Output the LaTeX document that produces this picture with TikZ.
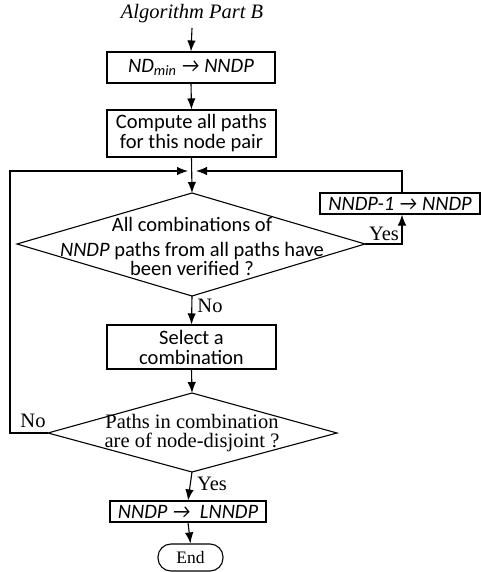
\documentclass[tikz,border=0pt]{standalone}
\usepackage{fontspec}
\setmainfont{Liberation Serif}
\newfontfamily\carlitofont{Carlito}
\usetikzlibrary{arrows.meta}
\tikzset{
  conn/.style={line width=1.1pt,-{Latex[length=11pt,width=8.5pt]}},
  plain/.style={line width=1.1pt},
  boxn/.style={draw,line width=1.1pt,inner sep=0pt,align=center,font=\carlitofont\fontsize{20.5}{20}\selectfont},
  serif/.style={font=\fontsize{20.5}{18.5}\selectfont},
}
\begin{document}
\begin{tikzpicture}[x=1pt,y=-1pt]
\useasboundingbox (0,0) rectangle (481,572);
% title
\node[serif,font=\fontsize{20.5}{18}\selectfont\itshape] (title) at (192,14) {Algorithm Part B};
\coordinate (t0) at (192,28);
% boxes
\node[boxn,minimum width=168pt,minimum height=31pt] (b1) at (191,67.5) {\itshape ND\textsubscript{min} → NNDP};
\node[boxn,minimum width=169pt,minimum height=47pt] (b2) at (191.5,133.5) {Compute all paths\\for this node pair};
\node[boxn,minimum width=160pt,minimum height=21pt] (b3) at (400,203.5) {\itshape NNDP-1 → NNDP};
\node[boxn,minimum width=169pt,minimum height=44pt] (b4) at (191.5,347) {Select a\\combination};
\node[boxn,minimum width=156pt,minimum height=21pt] (b5) at (188,511.5) {\itshape NNDP →\ \ LNNDP};
\node[draw,line width=1.1pt,rounded corners=13pt,minimum width=65pt,minimum height=27pt,inner sep=0pt,serif,font=\fontsize{17.5}{18}\selectfont] (end) at (190.5,557.5) {End};
% diamond 1
\coordinate (d1n) at (192,193);
\coordinate (d1e) at (365,244);
\coordinate (d1s) at (192,296);
\coordinate (d1w) at (17,244);
\draw[plain] (d1n) -- (d1e) -- (d1s) -- (d1w) -- cycle;
\node[align=center,font=\carlitofont\fontsize{20.5}{20}\selectfont,inner sep=0pt] (d1t) at (192,246)
  {All combinations of\\[5pt] \textit{NNDP} paths from all paths have\\[-1pt] been verified ?};
% diamond 2
\coordinate (d2n) at (192,393);
\coordinate (d2e) at (337,433);
\coordinate (d2s) at (192,472);
\coordinate (d2w) at (48,433);
\draw[plain] (d2n) -- (d2e) -- (d2s) -- (d2w) -- cycle;
\node[align=center,serif,inner sep=0pt] (d2t) at (192,433)
  {Paths in combination\\are of node-disjoint ?};
% junction
\coordinate (jl) at (188,171);
\coordinate (jr) at (196,171);
\coordinate (lc1) at (10,433);
\coordinate (lc2) at (10,171);
\coordinate (rc1) at (402,244);
\coordinate (rc2) at (402,171);
% connectors
\draw[conn] (t0) -- (b1.north);
\draw[conn] (b1.south) -- (b2.north);
\draw[conn] (b2.south) -- (d1n);
\draw[conn] (d1s) -- (b4.north);
\draw[conn] (b4.south) -- (d2n);
\draw[conn] (d2s) -- (b5.north);
\draw[conn] (b5.south) -- (end.north);
\draw[conn] (d1e) -- (rc1) -- (b3.south -| rc1);
\draw[conn] (b3.north -| rc2) -- (rc2) -- (jr);
\draw[conn] (d2w) -- (lc1) -- (lc2) -- (jl);
% labels
\node[serif] (lyes1) at (384,234) {Yes};
\node[serif] (lno1) at (210,306) {No};
\node[serif] (lno2) at (33,421) {No};
\node[serif] (lyes2) at (212,484) {Yes};
\end{tikzpicture}
\end{document}
